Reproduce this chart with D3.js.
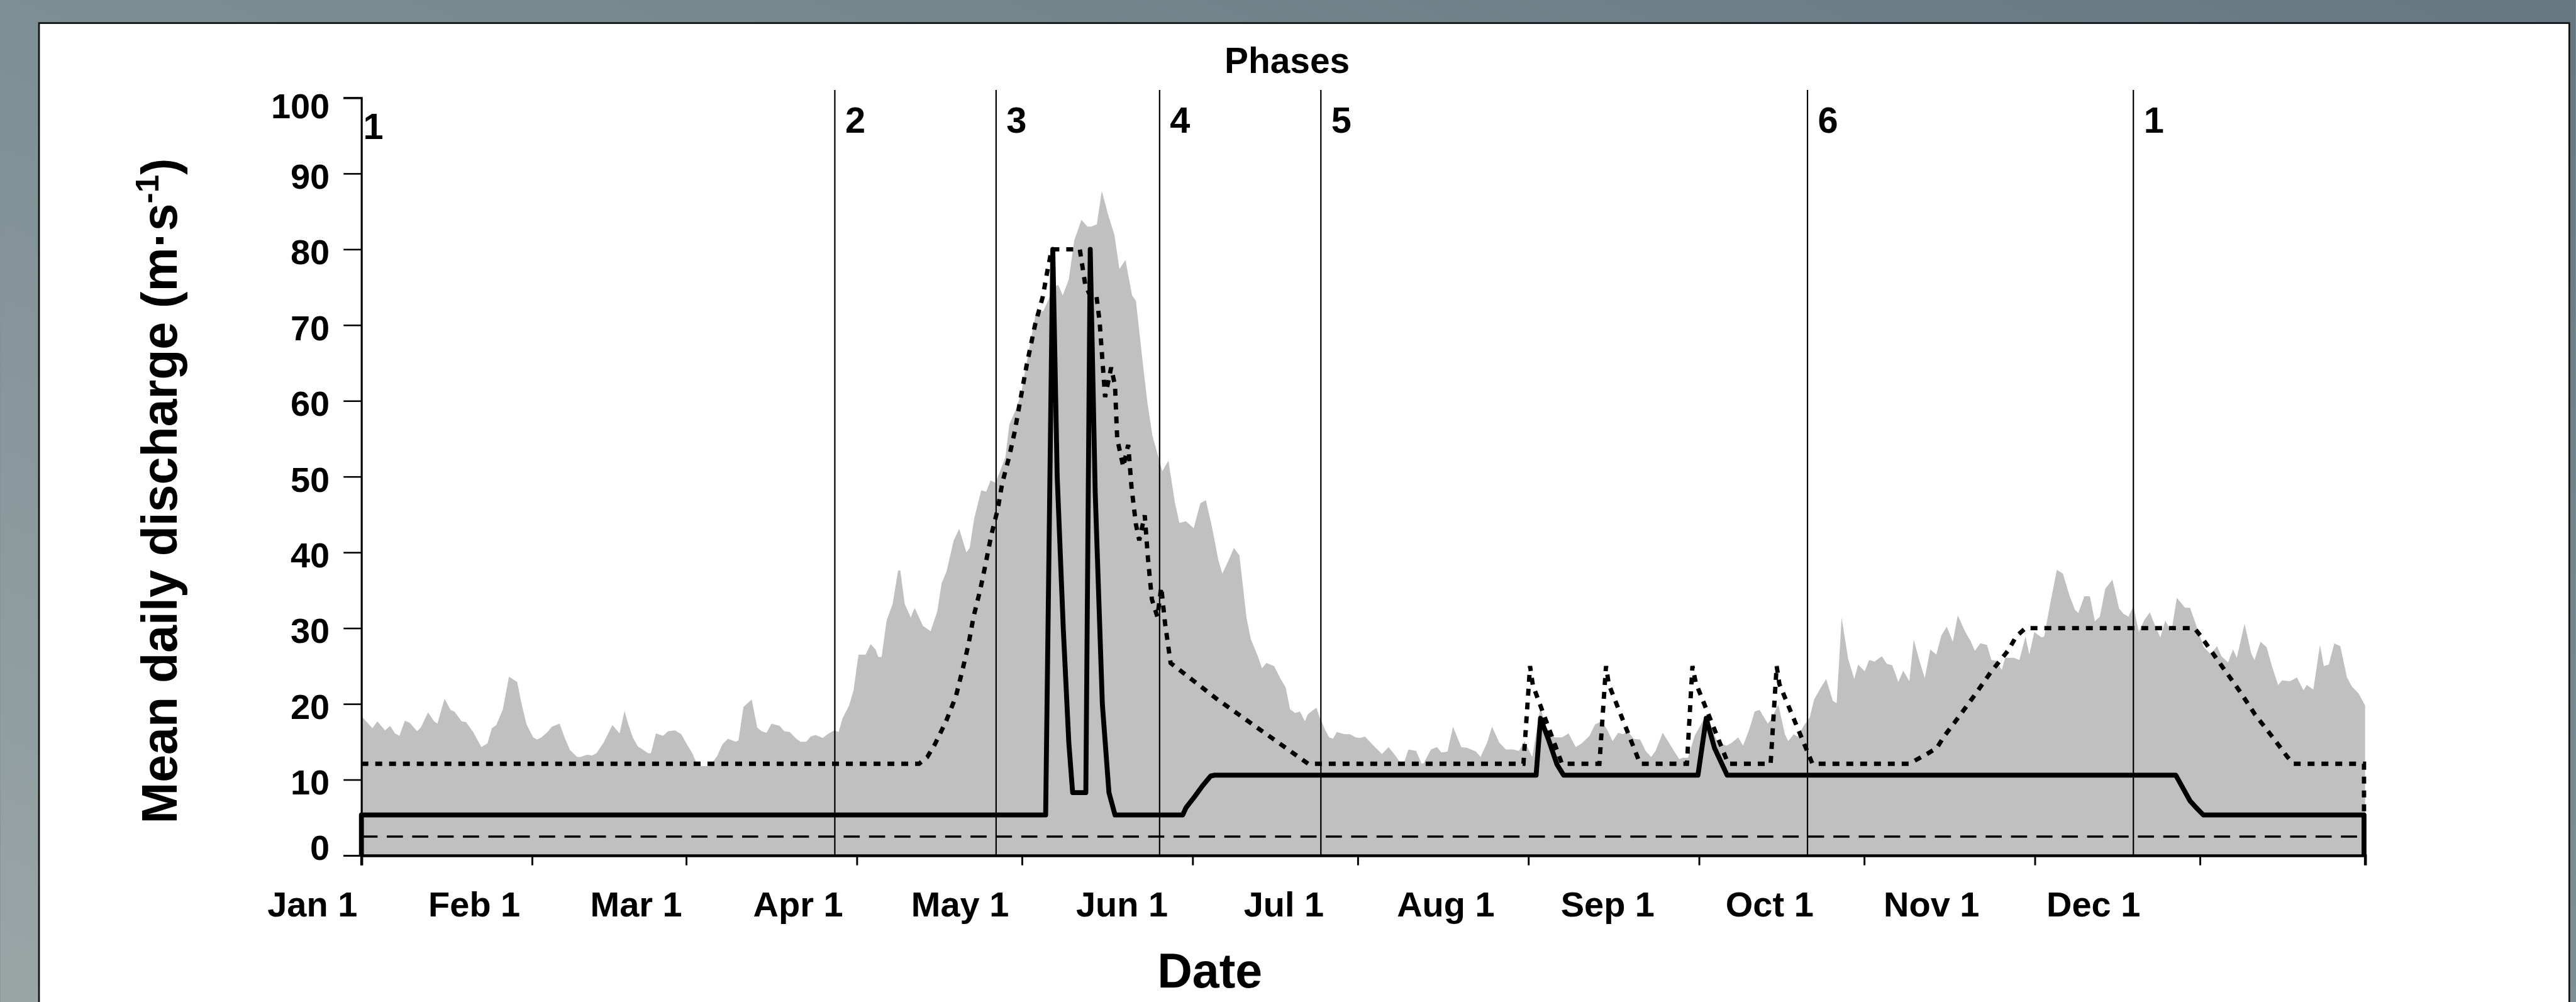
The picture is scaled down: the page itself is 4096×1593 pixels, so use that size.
<!DOCTYPE html>
<html>
<head>
<meta charset="utf-8">
<script src="https://cdn.jsdelivr.net/npm/d3@7"></script>
<style>
  html, body { margin: 0; padding: 0; overflow: hidden; background: #7f9097; }
  svg { display: block; }
  text { font-family: "Liberation Sans", Arial, sans-serif; font-weight: bold; fill: #000; }
</style>
</head>
<body>
<svg id="chart"></svg>
<script>
// ---------- Data (day of year from Jan 1 = 0, discharge in m3/s) ----------
const monthStarts = [0, 31, 59, 90, 120, 151, 181, 212, 243, 273, 304, 334];
const monthLabels = ['Jan 1', 'Feb 1', 'Mar 1', 'Apr 1', 'May 1', 'Jun 1',
                     'Jul 1', 'Aug 1', 'Sep 1', 'Oct 1', 'Nov 1', 'Dec 1'];
const yTicks = [0, 10, 20, 30, 40, 50, 60, 70, 80, 90, 100];

const phaseStarts = [0, 86, 115.3, 145, 174.3, 262.7, 321.9];
const phaseLabels = ['1', '2', '3', '4', '5', '6', '1'];

// grey area: mean daily discharge
const discharge = [
  [0,18.4],[2,16.8],[2.9,17.7],[4.3,16.5],[5.2,17.1],[6.1,16.1],[6.9,15.8],[7.9,17.8],[8.8,17.5],
  [10.1,16.4],[10.8,16.9],[12.1,18.9],[13.2,17.7],[13.8,17.4],[15.1,20.7],[16.2,19.2],[16.9,19.0],
  [18.2,17.7],[19,17.6],[20.3,16.3],[21.8,14.3],[22.9,14.8],[23.7,16.8],[24.5,17.2],[25.7,19.3],
  [26.8,23.6],[28.3,22.9],[29.1,20.0],[30,17.3],[31.2,15.6],[31.9,15.3],[32.7,15.6],[33.8,16.3],
  [34.6,17.0],[36,17.4],[37,15.4],[37.9,13.9],[39.2,13.0],[39.8,13.0],[41,13.3],[41.9,13.2],
  [42.7,13.5],[44,14.9],[45.6,17.2],[46.9,16.1],[47.8,19.1],[48.4,17.5],[49.3,15.6],[50.2,14.4],
  [52.1,13.5],[52.6,13.5],[53.5,16.1],[54.8,15.8],[55.7,16.4],[57,16.5],[58.1,16.0],[59.1,14.7],
  [60.1,13.5],[61,12.0],[61.8,11.8],[63.3,11.8],[64.6,13.1],[65.6,14.7],[66.6,15.4],[68,15.0],
  [68.5,15.2],[69.4,19.6],[70.9,20.6],[71.9,16.9],[72.7,16.4],[73.6,16.2],[74.5,17.4],[76,17.1],
  [76.8,16.4],[77.8,16.3],[79,15.4],[79.8,15.0],[80.8,15.0],[81.6,15.7],[82.5,15.9],[83.8,15.5],
  [84.9,16.1],[85.9,16.5],[86.7,16.3],[87.4,18.1],[88.6,19.8],[89.4,21.8],[90.3,26.5],[91.6,26.5],
  [92.5,27.9],[93.4,27.2],[93.9,26.2],[94.5,26.2],[95.4,31.0],[96.5,33.2],[97.5,37.6],[97.9,37.6],
  [98.7,33.2],[99.8,31.4],[100.5,32.7],[102,30.3],[103.4,29.6],[104.6,32.2],[105.4,35.9],[106.3,37.5],
  [107.6,41.6],[108.6,43.1],[109.9,40.0],[110.5,40.6],[111.3,44.4],[112.6,48.2],[113.5,48.0],
  [114.3,49.5],[115.2,49.2],[117,52.6],[117.7,56.9],[118.8,58.7],[119.9,61.1],[120.5,63.7],
  [122.5,71.5],[123.9,71.9],[124.8,73.3],[125.6,75.0],[126.6,75.3],[127.4,73.9],[128.5,76.0],
  [129.5,81.2],[130.8,83.9],[131.9,83.0],[132.6,83.0],[133.6,83.3],[134.5,87.7],[135.6,84.7],
  [136.8,81.9],[137.7,77.4],[138.8,78.6],[140,73.9],[140.7,73.2],[141.9,65.3],[142.8,59.7],
  [143.7,55.4],[144.7,52.8],[145.5,50.7],[146.6,52.1],[147.8,46.5],[148.6,43.9],[149.8,44.1],
  [151.2,43.2],[152.4,46.5],[153.4,46.9],[154.5,43.4],[155.7,38.9],[156.4,37.2],[157.5,38.9],
  [158.5,40.6],[159.5,39.6],[160.8,31.3],[161.6,28.5],[162.8,26.4],[163.6,24.7],[164.4,25.4],
  [165.8,25.0],[167,23.3],[167.9,22.2],[168.7,19.3],[169.6,18.8],[170.5,19.0],[171.4,17.7],
  [171.9,18.6],[172.7,19.1],[173.5,19.5],[174,18.4],[175,16.7],[175.8,15.6],[176.5,15.4],
  [177.2,16.3],[178.6,16.0],[179.6,16.0],[180.6,15.6],[181.4,15.5],[182.3,15.7],[183.6,14.7],
  [185.4,13.4],[186.6,14.3],[187.8,13.2],[189.2,11.8],[190.2,14.0],[191.6,13.8],[192.6,12.1],
  [193,12.2],[194.3,14.0],[195.4,14.3],[196.2,13.6],[197.3,13.7],[198.3,17.0],[199.8,14.3],
  [200.9,14.2],[202.5,13.7],[203.3,13.0],[204.5,14.9],[205.4,17.0],[206.7,14.9],[207.9,14.0],
  [209.2,14.0],[210.3,13.8],[211.3,15.1],[212.7,13.0],[214.2,19.6],[215.1,17.0],[216.7,15.6],
  [218.1,15.6],[219.3,16.1],[220.6,14.3],[221.7,14.8],[223.1,15.8],[224.1,17.3],[225.3,17.7],
  [226.3,16.6],[227.3,15.1],[228.3,16.2],[229.2,16.0],[230.1,16.4],[231.1,15.4],[232.3,15.3],
  [233.3,13.8],[234.3,13.0],[235.1,13.8],[236.4,16.2],[237.5,14.9],[239.4,12.7],[240,12.9],
  [241,12.9],[242.2,15.8],[244.2,18.4],[246.4,14.9],[248,14.5],[249,14.9],[250.1,15.6],[251,14.5],
  [252.1,16.6],[253.1,19.0],[254,19.2],[255.5,17.4],[256,17.9],[257.4,19.9],[258.6,16.0],
  [259.2,15.1],[260.2,16.0],[260.9,15.7],[262.1,17.2],[263.1,18.2],[263.9,20.6],[265,22.0],
  [266.1,23.3],[267.3,20.4],[268,20.1],[268.9,31.4],[270.1,25.9],[271.2,23.3],[271.9,25.2],
  [273.1,24.3],[273.9,25.8],[274.9,25.6],[276.2,26.3],[277.1,25.3],[278.1,25.1],[279.2,22.9],
  [280.1,24.4],[281.2,23.0],[282,28.5],[283,25.8],[284,23.4],[285,27.2],[286.1,26.5],[287,29.0],
  [288,30.2],[289.1,28.2],[290,31.7],[291.3,29.6],[292.4,28.2],[293.1,27.0],[294.1,28.0],
  [295.3,27.8],[296.1,25.8],[297,25.7],[298,24.5],[298.6,26.1],[300.2,26.1],[301.2,25.8],
  [302.3,28.9],[303,26.5],[303.9,29.5],[305.2,28.8],[305.7,28.9],[306.7,32.9],[308,37.7],
  [309.1,37.2],[310.3,34.3],[311.3,32.4],[311.9,32.0],[313,34.2],[314,34.2],[314.9,30.9],
  [315.8,31.5],[316.8,35.2],[318.1,36.4],[319.3,32.6],[320.1,31.9],[321,31.5],[321.9,32.9],
  [322.9,29.5],[323.9,31.1],[324.9,32.1],[325.9,30.2],[326.8,28.8],[327.7,31.0],[328.8,29.5],
  [329.8,34.0],[331.3,32.7],[332.2,32.7],[334.7,27.5],[335.9,26.6],[337.1,27.6],[337.9,26.3],
  [339.1,25.5],[340,27.2],[340.7,26.1],[342.1,30.6],[343.3,26.7],[343.9,25.8],[345,28.2],
  [346.1,27.5],[347.1,24.9],[348.2,22.5],[348.9,23.1],[350.4,23.0],[351.6,23.5],[352.8,21.8],
  [353.4,22.5],[354.6,21.9],[355.8,27.8],[356.5,25.0],[357.4,25.2],[358.4,28.0],[359.5,27.6],
  [360.7,23.5],[361.6,22.3],[362.8,21.4],[364,19.8]
];

// dotted line
const dottedSeries = [
  [0,12.1],[101.3,12.1],[102.8,13.0],[104.2,14.7],[106.2,17.7],[108,21.0],[109.2,24.5],[110.3,27.9],
  [111.2,31.5],[112.4,35.0],[113.4,38.5],[114.4,42.2],[115.6,45.7],[116.4,49.1],[117.7,52.7],
  [118.7,56.0],[119.6,59.7],[120.9,64.9],[122.4,70.1],[123.8,73.8],[124.6,77.1],[125.4,80],
  [130.5,80],[131.5,75.3],[132.3,74],[133.5,74],[134.1,70.5],[135.1,60.5],[136.2,64.4],[136.9,62],
  [137.3,55],[138.4,51.3],[139.3,54.2],[139.9,48.6],[140.7,43.7],[141.3,41.6],[142.3,44.9],
  [142.9,39.1],[143.6,33.8],[144.6,31.5],[145.3,35.4],[146,30.6],[147,25.4],[155.5,20.6],[172,12.1],
  [211.1,12.1],[212.3,25],[212.8,22.5],[218.1,12.1],[224.9,12.1],[226.1,25],[226.6,22.6],[232.3,12.1],
  [240.8,12.1],[241.8,25],[242.4,22.8],[248.3,12.1],[256,12.1],[257.1,25],[257.6,22.6],[263.6,12.1],
  [281.1,12.1],[284.2,13.3],[286.2,14.2],[287.5,15.7],[290.5,18.6],[293.2,21.3],[296,24.2],
  [299.2,27.1],[300.6,28.9],[302.3,30],[333,30],[334.2,28.9],[337,26],[341.3,21.6],[344,18.6],
  [346.9,15.9],[349.9,13.0],[351,12.1],[363.8,12.1],[363.8,5.35]
];

// thick solid line
const solidSeries = [
  [0,0],[0,5.35],[124.3,5.35],[125.6,80],[126.4,50],[127.5,30],[128.5,15],[129.2,8.3],[131.6,8.3],
  [132.4,80],[133.3,48],[134.6,20],[135.8,8.3],[136.9,5.35],[149.2,5.35],[149.8,6.3],[151.4,7.8],
  [152.8,9.2],[154.3,10.5],[155,10.6],[213.4,10.6],[214.2,18.1],[215.7,15.2],[217.2,12.0],[218.4,10.6],
  [242.8,10.6],[244.3,18.1],[245.8,14.2],[248.1,10.6],[329.6,10.6],[332.2,7.2],[333.2,6.4],
  [334.6,5.35],[363.8,5.35],[363.8,0]
];

// thin dashed line
const dashedSeries = [[0,2.5],[364,2.5]];

// ---------- Layout, in reference pixels (viewBox scales to the window) ----------
const W = 4465, H = 1737;
const plot = { left: 626, right: 4100, top: 169.5, bottom: 1483 };

const svg = d3.select('#chart')
    .attr('width', 4096)
    .attr('height', 1593)
    .attr('viewBox', `0 0 ${W} ${H}`);

const defs = svg.append('defs');
const grad = defs.append('linearGradient')
    .attr('id', 'bg').attr('x1', 0).attr('y1', 1).attr('x2', 1).attr('y2', 0);
grad.append('stop').attr('offset', '0%').attr('stop-color', '#9aa5a6');
grad.append('stop').attr('offset', '45%').attr('stop-color', '#7f9097');
grad.append('stop').attr('offset', '100%').attr('stop-color', '#66777f');

svg.append('rect').attr('width', W).attr('height', H).attr('fill', 'url(#bg)');

// white panel
svg.append('rect')
    .attr('x', 67).attr('y', 40)
    .attr('width', 4454 - 67).attr('height', H)
    .attr('fill', '#fff')
    .attr('stroke', '#111')
    .attr('stroke-width', 3);

const x = d3.scaleLinear().domain([0, 364]).range([plot.left, plot.right]);
const y = d3.scaleLinear().domain([0, 100]).range([plot.bottom, plot.top]);

// ---------- Marks ----------
const area = d3.area()
    .x(d => x(d[0]))
    .y0(y(0))
    .y1(d => y(d[1]));

svg.append('path')
    .datum(discharge)
    .attr('d', area)
    .attr('fill', '#c0c0c0');

// phase boundaries
svg.append('g')
    .selectAll('line')
    .data(phaseStarts.slice(1))
    .join('line')
    .attr('x1', d => x(d)).attr('x2', d => x(d))
    .attr('y1', 156).attr('y2', y(0))
    .attr('stroke', '#000')
    .attr('stroke-width', 2.4);

const line = d3.line()
    .x(d => x(d[0]))
    .y(d => y(d[1]));

svg.append('path')
    .datum(dashedSeries)
    .attr('d', line)
    .attr('fill', 'none')
    .attr('stroke', '#000')
    .attr('stroke-width', 3.8)
    .attr('stroke-dasharray', '28 16');

svg.append('path')
    .datum(dottedSeries)
    .attr('d', line)
    .attr('fill', 'none')
    .attr('stroke', '#000')
    .attr('stroke-width', 7.5)
    .attr('stroke-dasharray', '12 12');

svg.append('path')
    .datum(solidSeries)
    .attr('d', line)
    .attr('fill', 'none')
    .attr('stroke', '#000')
    .attr('stroke-width', 8.5)
    .attr('stroke-linejoin', 'round');

// ---------- Axes ----------
const yAxis = d3.axisLeft(y)
    .tickValues(yTicks)
    .tickSize(31)
    .tickFormat('');
const gy = svg.append('g')
    .attr('transform', `translate(${plot.left},0)`)
    .call(yAxis);
gy.select('.domain').attr('stroke', '#000').attr('stroke-width', 3.5);
gy.selectAll('.tick line').attr('stroke', '#000').attr('stroke-width', 2.8);

// y labels: kept inside the axis span like the original
svg.append('g')
    .selectAll('text')
    .data(yTicks)
    .join('text')
    .attr('x', 571)
    .attr('y', d => Math.min(Math.max(y(d) + 4, y(100) + 13), y(0) - 14))
    .attr('dy', '0.36em')
    .attr('text-anchor', 'end')
    .attr('font-size', 61)
    .text(d => d);

const xAxis = d3.axisBottom(x)
    .tickValues(monthStarts)
    .tickSize(17)
    .tickFormat('');
const gx = svg.append('g')
    .attr('transform', `translate(0,${plot.bottom})`)
    .call(xAxis);
gx.select('.domain').attr('stroke', '#000').attr('stroke-width', 5);
gx.selectAll('.tick line').attr('stroke', '#000').attr('stroke-width', 3.2);

// month labels sit evenly spaced, a little left of their ticks
const labelX = d3.scalePoint().domain(monthLabels).range([541, 3629]);
svg.append('g')
    .selectAll('text')
    .data(monthLabels)
    .join('text')
    .attr('x', d => labelX(d))
    .attr('y', 1589)
    .attr('text-anchor', 'middle')
    .attr('font-size', 61)
    .text(d => d);

// phase numbers
svg.append('g')
    .selectAll('text')
    .data(phaseStarts)
    .join('text')
    .attr('x', (d, i) => x(d) + (i === 0 ? 3 : 18))
    .attr('y', (d, i) => i === 0 ? 241 : 230)
    .attr('font-size', 63)
    .text((d, i) => phaseLabels[i]);

// ---------- Titles ----------
svg.append('text')
    .attr('x', 2231).attr('y', 126)
    .attr('text-anchor', 'middle')
    .attr('font-size', 62)
    .text('Phases');

svg.append('text')
    .attr('x', 2097).attr('y', 1712)
    .attr('text-anchor', 'middle')
    .attr('font-size', 84)
    .text('Date');

const yTitle = svg.append('text')
    .attr('transform', 'translate(306,851) rotate(-90)')
    .attr('text-anchor', 'middle')
    .attr('font-size', 86);
yTitle.append('tspan').text('Mean daily discharge (m·s');
yTitle.append('tspan').attr('font-size', 56).attr('dy', -32).text('-1');
yTitle.append('tspan').attr('dy', 32).text(')');
</script>
</body>
</html>
